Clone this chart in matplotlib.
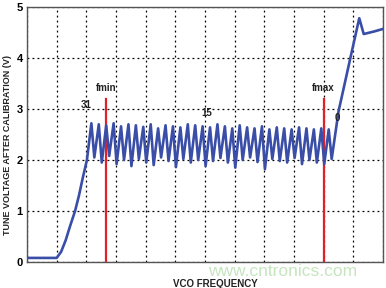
import matplotlib
matplotlib.use("Agg")
import matplotlib.pyplot as plt

plt.rcParams["font.family"] = ["Liberation Sans", "DejaVu Sans"]

# ---- data (x in grid units of VCO frequency, y in volts) ----
rise_x = [0.0, 1.0, 1.15, 1.3, 1.45, 1.62, 1.75, 1.88, 2.02]
rise_y = [0.08, 0.08, 0.2, 0.42, 0.7, 1.0, 1.3, 1.65, 2.0]

peak_x = [2.17, 2.42, 2.67, 2.92, 3.17, 3.42, 3.67, 3.92, 4.17, 4.42, 4.67,
          4.92, 5.17, 5.42, 5.67, 5.92, 6.17, 6.42, 6.67, 6.92, 7.17, 7.42,
          7.67, 7.92, 8.17, 8.42, 8.67, 8.92, 9.17, 9.42, 9.67, 9.92, 10.17]
peak_y = [2.72, 2.70, 2.68, 2.72, 2.66, 2.70, 2.68, 2.65, 2.70, 2.62, 2.68,
          2.66, 2.64, 2.70, 2.68, 2.66, 2.64, 2.70, 2.66, 2.62, 2.68, 2.64,
          2.62, 2.66, 2.60, 2.64, 2.62, 2.60, 2.64, 2.62, 2.60, 2.62, 2.60]
low_x = [2.27, 2.52, 2.77, 3.02, 3.27, 3.52, 3.77, 4.02, 4.27, 4.52, 4.77,
         5.02, 5.27, 5.52, 5.77, 6.02, 6.27, 6.52, 6.77, 7.02, 7.27, 7.52,
         7.77, 8.02, 8.27, 8.52, 8.77, 9.02, 9.27, 9.52, 9.77, 10.02, 10.27]
low_y = [2.05, 1.95, 2.08, 1.92, 2.00, 1.88, 2.02, 1.95, 1.90, 2.05, 1.98,
         1.86, 2.02, 1.95, 2.00, 1.88, 1.98, 2.04, 1.95, 1.85, 2.00, 2.05,
         1.96, 1.82, 2.02, 1.98, 1.95, 2.04, 1.92, 2.00, 1.95, 1.92, 2.02]

top_x = [10.5, 10.9, 11.2, 11.35, 11.7, 12.0]
top_y = [2.95, 4.0, 4.78, 4.47, 4.52, 4.57]

marker_x = [2.67, 10.0]
marker_top = [3.2, 3.2]
marker_names = ["fmin", "fmax"]

band_labels = ["31", "15", "0"]
band_x = [2.0, 6.05, 10.45]
band_y = [2.98, 2.82, 2.72]

yticks = [0, 1, 2, 3, 4, 5]

# ---- build curve ----
xs = list(rise_x)
ys = list(rise_y)
for px, py, lx, ly in zip(peak_x, peak_y, low_x, low_y):
    xs += [px, lx]
    ys += [py, ly]
xs += top_x
ys += top_y

fig = plt.figure(figsize=(3.86, 2.88), dpi=100)
ax = fig.add_axes([27/386, 1-262/288, (383-27)/386, (262-7)/288])

ax.set_xlim(0, 12)
ax.set_ylim(0, 5)
ax.set_xticks(range(0, 13))
ax.set_yticks(yticks)
ax.set_xticklabels([])
ax.set_yticklabels([str(t) for t in yticks], fontweight="bold", fontsize=8)
ax.tick_params(length=0, pad=3)
ax.grid(True, color="black", linestyle=(0, (1.5, 2.5)), linewidth=0.9)
for s in ax.spines.values():
    s.set_color("#555555")
    s.set_linewidth(1.0)

for mx, mt, name in zip(marker_x, marker_top, marker_names):
    ax.plot([mx, mx], [0, mt], color="#e0202a", linewidth=1.6, zorder=3)
    ax.text(mx, mt + 0.12, name, ha="center", va="bottom", fontsize=7,
            fontweight="bold", color="#222222")

ax.plot(xs, ys, color="#3a4ea8", linewidth=1.9, zorder=4)

for lab, bx, by in zip(band_labels, band_x, band_y):
    ax.text(bx, by, lab, ha="center", va="bottom", fontsize=7,
            fontweight="bold", color="#222222", zorder=5)

ax.set_ylabel("TUNE VOLTAGE AFTER CALIBRATION (V)", fontsize=6.5,
              fontweight="bold", color="#222222")
ax.yaxis.set_label_coords(-0.042, 0.46)
ax.set_xlabel("VCO FREQUENCY", fontsize=7, fontweight="bold", color="#222222")
ax.xaxis.set_label_coords(0.53, -0.065)

fig.text(283/386, 1-272/288, "www.cntronics.com", fontsize=12.5, color="#c6e5bf",
         ha="center", va="center", zorder=10)

fig.savefig("out.png", dpi=100)
